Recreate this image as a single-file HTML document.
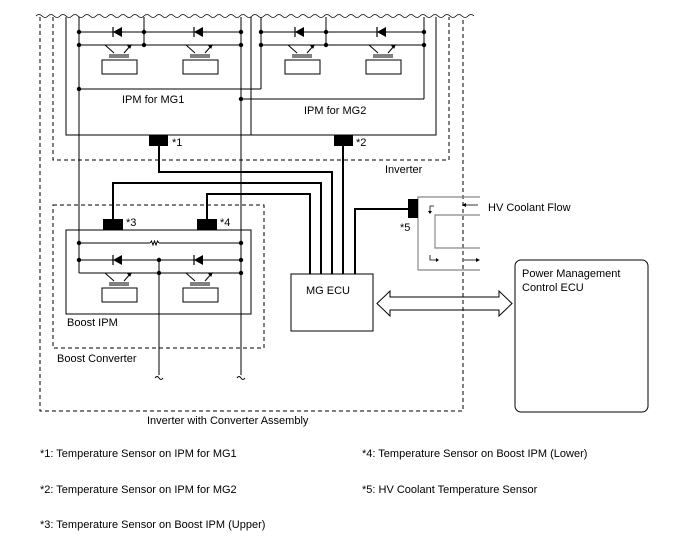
<!DOCTYPE html><html><head><meta charset="utf-8"><style>body{margin:0;background:#fff}svg{display:block}text{font-family:"Liberation Sans",sans-serif;font-size:11px;fill:#000}</style></head><body>
<svg width="688" height="560" viewBox="0 0 688 560">
<defs>
<g id="t" fill="none" stroke="#000" stroke-width="1">
<line x1="-14" y1="0" x2="-5" y2="8"/><line x1="5" y1="8" x2="12" y2="0"/>
<path d="M9 1 L12 0 L11 3 Z" fill="#000"/>
<line x1="-10" y1="10" x2="10" y2="10"/><line x1="-10" y1="12" x2="10" y2="12"/>
<rect x="-17" y="15" width="35" height="14"/>
</g>
<g id="d"><path d="M-5 0 L4 -5 L4 5 Z" fill="#000"/><line x1="-5" y1="-5" x2="-5" y2="5" stroke="#000" stroke-width="1.2"/></g>
<circle id="n" r="2.2" fill="#000"/>
</defs>
<path d="M36 16 q3 -3 6 0 t6 0 t6 0 t6 0 t6 0 t6 0 t6 0 t6 0 t6 0 t6 0 t6 0 t6 0 t6 0 t6 0 t6 0 t6 0 t6 0 t6 0 t6 0 t6 0 t6 0 t6 0 t6 0 t6 0 t6 0 t6 0 t6 0 t6 0 t6 0 t6 0 t6 0 t6 0 t6 0 t6 0 t6 0 t6 0 t6 0 t6 0 t6 0 t6 0 t6 0 t6 0 t6 0 t6 0 t6 0 t6 0 t6 0 t6 0 t6 0 t6 0 t6 0 t6 0 t6 0 t6 0 t6 0 t6 0 t6 0 t6 0 t6 0 t6 0 t6 0 t6 0 t6 0 t6 0 t6 0 t6 0 t6 0 t6 0 t6 0 t6 0 t6 0 t6 0 t6 0" fill="none" stroke="#000" stroke-width="0.8"/>
<g fill="none" stroke="#000" stroke-width="1" stroke-dasharray="4,3">
<path d="M40 17 V411 H463 V17"/>
<path d="M53 17 V160 H449 V17"/>
<rect x="53" y="205" width="211" height="143"/>
</g>
<g fill="none" stroke="#000" stroke-width="1">
<path d="M66 17 V135 H436 V17"/><line x1="251" y1="17" x2="251" y2="135"/>
<line x1="79" y1="17" x2="79" y2="273"/>
<line x1="241" y1="17" x2="241" y2="375"/>
<line x1="159" y1="260" x2="159" y2="375"/>
<line x1="144" y1="17" x2="144" y2="45"/>
<line x1="261" y1="17" x2="261" y2="89"/><line x1="326" y1="17" x2="326" y2="45"/><line x1="424" y1="17" x2="424" y2="99"/>
<line x1="79" y1="32" x2="241" y2="32"/><line x1="79" y1="45" x2="241" y2="45"/>
<line x1="261" y1="32" x2="424" y2="32"/><line x1="261" y1="45" x2="424" y2="45"/>
<line x1="79" y1="89" x2="261" y2="89"/><line x1="241" y1="99" x2="424" y2="99"/>
<rect x="66" y="230" width="185" height="84"/>
<line x1="79" y1="243" x2="150" y2="243"/><path d="M150 243 l1.5 -2 l1.5 4 l1.5 -4 l1.5 4 l1.5 -4 l1.5 2"/><line x1="159" y1="243" x2="241" y2="243"/>
<line x1="79" y1="260" x2="241" y2="260"/><line x1="79" y1="273" x2="241" y2="273"/>
<path d="M155 378 q2 -3 4 0 q2 3 4 0"/><path d="M237 378 q2 -3 4 0 q2 3 4 0"/>
<rect x="291" y="274" width="82" height="57"/>
<rect x="515" y="260" width="133" height="152" rx="6"/>
<path d="M377 303.5 L390 291 V297 H499 V291 L512 303.5 L499 316 V310 H390 V316 Z"/>
</g>
<g fill="none" stroke="#888" stroke-width="1.2">
<path d="M480 197 H418 V270 H480"/><path d="M480 215 H435 V248 H480"/>
</g>
<g fill="none" stroke="#000" stroke-width="0.8">
<path d="M430 213 V206 H434"/><path d="M430 255 V260 H436"/><line x1="466" y1="205" x2="478" y2="205"/><line x1="464" y1="260" x2="476" y2="260"/>
</g>
<g fill="#000"><path d="M462 205 l4 -2 v4 z"/><path d="M480 260 l-4 -2 v4 z"/><path d="M430 214 l-2 -3 h4 z"/><path d="M439 260 l-3 -2 v4 z"/></g>
<g fill="none" stroke="#000" stroke-width="2">
<path d="M159 146 V172 H332 V274"/><line x1="343" y1="146" x2="343" y2="274"/>
<path d="M113 219 V183 H321 V274"/><path d="M207 219 V194 H310 V274"/>
<path d="M355 274 V209 H408"/>
</g>
<g fill="#000">
<rect x="149" y="135" width="19" height="11"/><rect x="334" y="135" width="19" height="11"/>
<rect x="103" y="219" width="20" height="11"/><rect x="197" y="219" width="20" height="11"/>
<rect x="408" y="199" width="10" height="19"/>
</g>
<use href="#d" x="118" y="32"/><use href="#d" x="199" y="32"/><use href="#d" x="300" y="32"/><use href="#d" x="382" y="32"/>
<use href="#d" x="118" y="260"/><use href="#d" x="199" y="260"/>
<use href="#t" x="119" y="45"/><use href="#t" x="200" y="45"/><use href="#t" x="302" y="45"/><use href="#t" x="383" y="45"/>
<use href="#t" x="119" y="273"/><use href="#t" x="200" y="273"/>
<use href="#n" x="79" y="32"/><use href="#n" x="144" y="32"/><use href="#n" x="241" y="32"/>
<use href="#n" x="79" y="45"/><use href="#n" x="144" y="45"/><use href="#n" x="241" y="45"/>
<use href="#n" x="261" y="32"/><use href="#n" x="326" y="32"/><use href="#n" x="424" y="32"/>
<use href="#n" x="261" y="45"/><use href="#n" x="326" y="45"/><use href="#n" x="424" y="45"/>
<use href="#n" x="79" y="89"/><use href="#n" x="241" y="99"/>
<use href="#n" x="79" y="243"/><use href="#n" x="241" y="243"/>
<use href="#n" x="79" y="260"/><use href="#n" x="159" y="260"/><use href="#n" x="241" y="260"/>
<use href="#n" x="159" y="273"/><use href="#n" x="241" y="273"/>
<text x="122" y="103">IPM for MG1</text><text x="304" y="114">IPM for MG2</text>
<text x="172" y="146">*1</text><text x="356" y="146">*2</text><text x="385" y="173">Inverter</text>
<text x="126" y="226">*3</text><text x="220" y="226">*4</text><text x="400" y="231">*5</text>
<text x="488" y="211">HV Coolant Flow</text>
<text x="67" y="326">Boost IPM</text><text x="57" y="362">Boost Converter</text>
<text x="306" y="294">MG ECU</text>
<text x="522" y="277">Power Management</text><text x="522" y="291">Control ECU</text>
<text x="147" y="424">Inverter with Converter Assembly</text>
<text x="40" y="457">*1: Temperature Sensor on IPM for MG1</text>
<text x="40" y="493">*2: Temperature Sensor on IPM for MG2</text>
<text x="40" y="528">*3: Temperature Sensor on Boost IPM (Upper)</text>
<text x="362" y="457">*4: Temperature Sensor on Boost IPM (Lower)</text>
<text x="362" y="493">*5: HV Coolant Temperature Sensor</text>
</svg></body></html>
